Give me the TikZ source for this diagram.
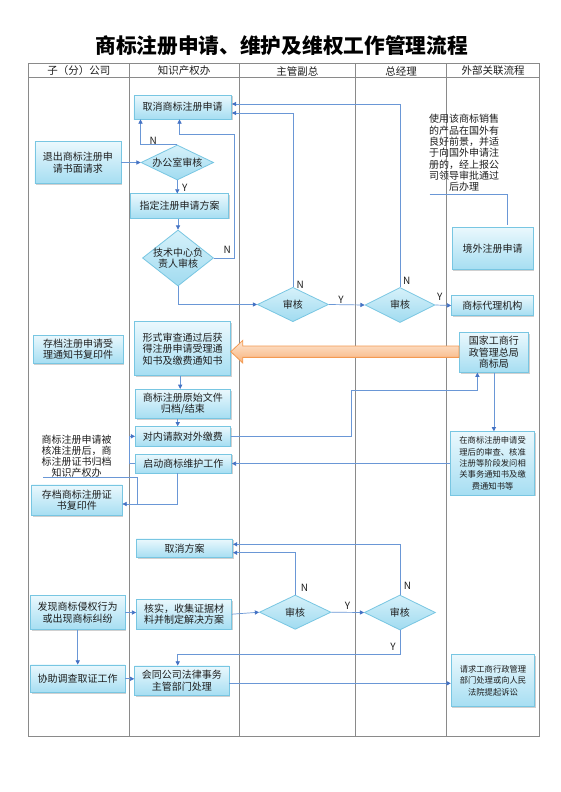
\documentclass[tikz,border=0pt]{standalone}
\usepackage{fontspec}
\setmainfont{Noto Sans CJK SC}
\usetikzlibrary{shapes.geometric,arrows.meta,shadows,calc}
\definecolor{boxtop}{HTML}{EAF8FD}
\definecolor{boxbot}{HTML}{A6DEF2}
\definecolor{boxline}{HTML}{78C6E2}
\definecolor{diatop}{HTML}{D6F1FA}
\definecolor{diabot}{HTML}{A0DBF0}
\definecolor{lnc}{HTML}{6A97D6}
\definecolor{arrc}{HTML}{4472C4}
\definecolor{gridc}{HTML}{8A8A8A}
\definecolor{txt}{HTML}{1E1E1E}
\definecolor{ortop}{HTML}{FDE6D3}
\definecolor{orbot}{HTML}{F8B27A}
\definecolor{orline}{HTML}{F39A52}
\begin{document}
\begin{tikzpicture}[x=1pt,y=-1pt,
  sz/.style 2 args={minimum width=#1pt,minimum height=#2pt},
  box/.style={rectangle,draw=boxline,line width=0.8pt,top color=boxtop,bottom color=boxbot,
    inner sep=1pt,align=center,text=txt,font=\fontsize{10}{11.5}\selectfont,
    drop shadow={shadow xshift=1.2pt,shadow yshift=-1.2pt,opacity=0.3,fill=black!60}},
  smallbox/.style={box,font=\fontsize{8.3}{11.4}\selectfont},
  dia/.style={diamond,draw=boxline,line width=0.8pt,top color=diatop,bottom color=diabot,inner sep=0pt},
  dtext/.style={align=center,text=txt,font=\fontsize{10}{11.5}\selectfont,inner sep=0pt},
  conn/.style={draw=lnc,line width=0.7pt,-{Triangle[length=4.2pt,width=4.2pt,color=arrc]}},
  plain/.style={draw=lnc,line width=0.7pt},
  yn/.style={font=\fontsize{10}{10}\selectfont,text=txt,inner sep=0pt},
  hdr/.style={font=\fontsize{10.5}{11}\selectfont,text=txt,inner sep=0pt},
  note/.style={align=center,text=txt,font=\fontsize{10}{11.3}\selectfont,inner sep=0pt},
  bigarr/.style={draw=orline,line width=0.8pt,top color=ortop,bottom color=orbot}
]
\useasboundingbox (0,0) rectangle (560,792);
\fill[white] (0,0) rectangle (560,792);

% title
\node[font=\fontsize{20.7}{22}\selectfont\bfseries,text=black,inner sep=0pt] (title) at (281.6,45.7) {商标注册申请、维护及维权工作管理流程};

% frame
\draw[gridc,line width=0.9pt] (28.5,63.3) rectangle (539,736.7);
\draw[gridc,line width=0.9pt] (28.5,77.7) -- (539,77.7);
\foreach \xx in {129,239.4,355.3,446.9} \draw[gridc,line width=0.9pt] (\xx,63.3) -- (\xx,736.7);
\node[hdr] (h1) at (78.8,71) {子（分）公司};
\node[hdr] (h2) at (184.2,71) {知识产权办};
\node[hdr] (h3) at (297.3,71) {主管副总};
\node[hdr] (h4) at (401.1,71) {总经理};
\node[hdr] (h5) at (493,71) {外部关联流程};

% nodes
\node[box,sz={97.6}{24}] (n1) at (182.7,107) {取消商标注册申请};
\node[box,sz={86}{41.6}] (n2) at (77.9,162.5) {退出商标注册申\\请书面请求};
\node[dia,sz={72.6}{35},label={[dtext,name=d1t]center:办公室审核}] (d1) at (177.3,162.5) {};
\node[box,sz={98.3}{24.3}] (n3) at (179.5,206) {指定注册申请方案};
\node[dia,sz={71}{56},label={[dtext,name=d2t]center:技术中心负\\责人审核}] (d2) at (178,258) {};
\node[dia,sz={71}{34.4},label={[dtext,name=d3t]center:审核}] (d3) at (292.9,304.5) {};
\node[dia,sz={70}{35},label={[dtext,name=d4t]center:审核}] (d4) at (400,305) {};
\node[box,sz={81.5}{20}] (n4) at (492.3,305.5) {商标代理机构};
\node[box,sz={80.7}{42}] (n5) at (492.6,248.3) {境外注册申请};
\node[note] (t1) at (464,152.9) {使用该商标销售\\的产品在国外有\\良好前景，并适\\于向国外申请注\\册的，经上报公\\司领导审批通过\\后办理};

\node[box,sz={90}{28.3}] (n6) at (78,349.2) {存档注册申请受\\理通知书复印件};
\node[box,sz={95.8}{54}] (n7) at (182.5,348.7) {形式审查通过后获\\得注册申请受理通\\知书及缴费通知书};
\node[box,sz={69}{39.6}] (n8) at (493.9,352.5) {国家工商行\\政管理总局\\商标局};
\node[box,sz={95}{29}] (n9) at (182.9,403.8) {商标注册原始文件\\归档/结束};
\node[box,sz={95}{19.3}] (n10) at (182.9,436.3) {对内请款对外缴费};
\node[smallbox,sz={84.3}{63.3}] (n11) at (492.6,463.3) {在商标注册申请受\\理后的审查、核准\\注册等阶段发问相\\关事务通知书及缴\\费通知书等};
\node[box,sz={96}{18.7}] (n12) at (183.4,463.6) {启动商标维护工作};
\node[note,font=\fontsize{10}{11}\selectfont] (t2) at (76.6,456.4) {商标注册申请被\\核准注册后，商\\标注册证书归档\\知识产权办};
\node[box,sz={90.4}{30.7}] (n13) at (76.8,500.3) {存档商标注册证\\书复印件};

\node[box,sz={96.2}{18.7}] (n14) at (184.5,548.3) {取消方案};
\node[dia,sz={71.5}{34.3},label={[dtext,name=d5t]center:审核}] (d5) at (295.2,612.2) {};
\node[dia,sz={71}{35},label={[dtext,name=d6t]center:审核}] (d6) at (399.9,612.5) {};
\node[box,sz={94.4}{33.6}] (n15) at (77.7,612.5) {发现商标侵权行为\\或出现商标纠纷};
\node[box,sz={95}{29.7}] (n16) at (184,614.2) {核实，收集证据材\\料并制定解决方案};
\node[box,sz={94.4}{27.7}] (n18) at (77.7,678.8) {协助调查取证工作};
\node[box,sz={94.4}{29.7}] (n17) at (181.8,680.8) {会同公司法律事务\\主管部门处理};
\node[smallbox,sz={83.6}{52.4}] (n19) at (493,680.5) {请求工商行政管理\\部门处理或向人民\\法院提起诉讼};

% big orange arrow
\coordinate (oy) at (0,351.7);
\path (n8.west |- oy) coordinate (otail);
\path (n7.east |- oy) coordinate (otip);
\draw[bigarr] (otip) -- ($(otip)+(12,-11.3)$) -- ($(otip)+(12,-5.65)$) -- ($(otail)+(0,-5.65)$)
  -- ($(otail)+(0,5.65)$) -- ($(otip)+(12,5.65)$) -- ($(otip)+(12,11.3)$) -- cycle;

% connectors
\draw[conn] (n2.east) -- (d1.west);
\draw[conn] (d1.north) -| ($(n1.south west)+(7,0)$);
\draw[conn] (d2.east) -| (234,134.3) -| ([xshift=-3.2pt]n1.south);
\draw[conn] (d1.south) -- (d1.south |- n3.north);
\draw[conn] (d2.north |- n3.south) -- (d2.north);
\draw[conn] (d2.south) |- (d3.west);
\draw[conn] (d3.north) |- ([yshift=-6pt]n1.east);
\draw[conn] (d4.north) |- ([yshift=3pt]n1.east);
\draw[conn] (d3.east) -- (d4.west);
\draw[conn] (d4.east) -- (n4.west);
\coordinate (t1a) at (429.6,194);
\draw[plain] (t1a) -| ([xshift=14.6pt,yshift=2.3pt]n5.north);

\draw[conn] ([xshift=-2.3pt]n7.south) -- ([xshift=-2.3pt]n7.south |- n9.north);
\draw[conn] ([xshift=-5.2pt]n9.south) -- ([xshift=-5.2pt]n9.south |- n10.north);
\draw[conn] (n10.east) -| (351.8,390.7) -| ([xshift=-16.5pt]n8.south);
\draw[conn] (n8.south) -- (n8.south |- n11.north);
\draw[conn] (n11.west |- n12.east) -- (n12.east);
\draw[conn] (n12.west) -- ++(-5.3,0) |- (n10.west);
\coordinate (t2a) at (43,477.3);
\draw[plain] (t2a) -| (137.5,504);
\draw[conn] ([xshift=-5.7pt]n12.south) |- ([yshift=-3.7pt]n13.east);

\draw[conn] (d6.north) |- ([yshift=4pt]n14.east);
\draw[conn] (d5.north) |- ([yshift=-4.4pt]n14.east);
\draw[conn] (d5.east) -- (d6.west);
\draw[conn] (n15.east) -- (n16.west |- n15.east);
\draw[conn] (n16.east) -- (d5.west);
\draw[conn] (d6.south) -- ++(0,24) -| ([xshift=-4.1pt]n17.north);
\draw[conn] (n15.south) -- (n18.north);
\draw[conn] (n18.east) -- (n17.west |- n18.east);
\draw[conn] ([yshift=-2.5pt]n17.east) -- ([yshift=-2.5pt]n17.east -| n19.west);

% Y/N labels
\node[yn] (l1) at (153.3,141) {N};
\node[yn] (l2) at (184.9,188) {Y};
\node[yn] (l3) at (227.2,250) {N};
\node[yn] (l4) at (300.3,284.5) {N};
\node[yn] (l5) at (341,299.5) {Y};
\node[yn] (l6) at (406.7,281) {N};
\node[yn] (l7) at (439.7,297.3) {Y};
\node[yn] (l8) at (304.4,587.7) {N};
\node[yn] (l9) at (407.4,586) {N};
\node[yn] (l10) at (347.5,606) {Y};
\node[yn] (l11) at (393,647.3) {Y};
\end{tikzpicture}
\end{document}
